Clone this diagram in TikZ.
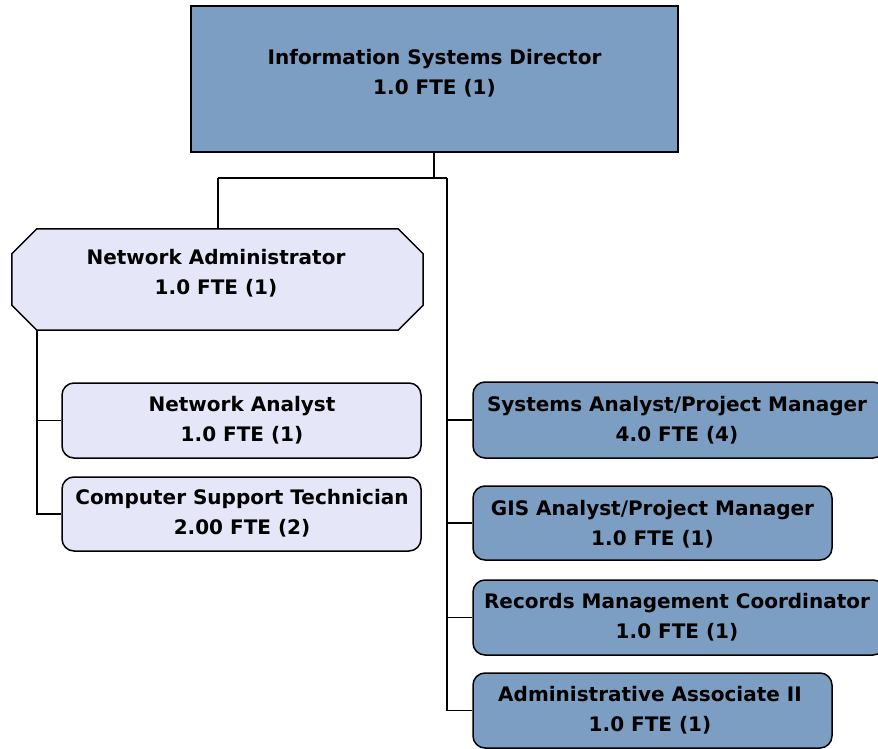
\documentclass[tikz,border=0pt]{standalone}
\usepackage{fontspec}
\setmainfont{DejaVu Sans}
\definecolor{darkfill}{RGB}{124,158,194}
\definecolor{lightfill}{RGB}{230,230,249}
\begin{document}
\begin{tikzpicture}[x=1pt,y=-1pt,
  lbl/.style={font=\fontsize{20}{30}\selectfont\bfseries,align=center,inner sep=0pt},
  dirbox/.style={draw=black,line width=1.5pt,fill=darkfill,rectangle,inner sep=0pt},
  darkbox/.style={draw=black,line width=1.5pt,fill=darkfill,rounded corners=12pt,rectangle,inner sep=0pt},
  lightbox/.style={draw=black,line width=1.5pt,fill=lightfill,rounded corners=12pt,rectangle,inner sep=0pt},
  plainbox/.style={rectangle,inner sep=0pt},
  chamline/.style={draw=black,line width=1.5pt,fill=lightfill},
  conn/.style={draw=black,line width=1.5pt}]
\useasboundingbox (0,0) rectangle (878,749);
% boxes
\node[dirbox,minimum width=487pt,minimum height=146pt] (dir) at (434.5,79) {};
\node[lbl] (dirT) at (434.5,73.5) {Information Systems Director\\1.0 FTE (1)};
\node[plainbox,minimum width=411pt,minimum height=101pt] (na) at (217.5,279.5) {};
\draw[chamline] ([xshift=25pt]na.north west) -- ([xshift=-25pt]na.north east)
  -- ([yshift=-25pt]na.north east) -- ([yshift=25pt]na.south east)
  -- ([xshift=-25pt]na.south east) -- ([xshift=25pt]na.south west)
  -- ([yshift=25pt]na.south west) -- ([yshift=-25pt]na.north west) -- cycle;
\node[lbl] (naT) at (216,273.5) {Network Administrator\\1.0 FTE (1)};
\node[lightbox,minimum width=359pt,minimum height=75pt] (nan) at (241.5,420.5) {};
\node[lbl] (nanT) at (242,420) {Network Analyst\\1.0 FTE (1)};
\node[lightbox,minimum width=359pt,minimum height=74pt] (cst) at (241.5,514) {};
\node[lbl] (cstT) at (242,513) {Computer Support Technician\\2.00 FTE (2)};
\node[darkbox,minimum width=412pt,minimum height=76pt] (sapm) at (679,420) {};
\node[lbl] (sapmT) at (677,420) {Systems Analyst/Project Manager\\4.0 FTE (4)};
\node[darkbox,minimum width=359pt,minimum height=74pt] (gis) at (652.5,523) {};
\node[lbl] (gisT) at (652.5,524) {GIS Analyst/Project Manager\\1.0 FTE (1)};
\node[darkbox,minimum width=412pt,minimum height=75pt] (rmc) at (679,617.5) {};
\node[lbl] (rmcT) at (677,617.5) {Records Management Coordinator\\1.0 FTE (1)};
\node[darkbox,minimum width=359pt,minimum height=75pt] (aa) at (652.5,710.5) {};
\node[lbl] (aaT) at (650,710) {Administrative Associate II\\1.0 FTE (1)};
% connectors
\coordinate (j) at (434,178);
\coordinate (jl) at (218,178);
\coordinate (jr) at (447,178);
\draw[conn] (dir.south -| j) -- (j);
\draw[conn] (jl) -- (jr);
\draw[conn] (jl) -- (jl |- na.north);
\coordinate (nl) at (37,330);
\draw[conn] (nl) -- (nl |- cst.west) -- (cst.west);
\draw[conn] (nl |- nan.west) -- (nan.west);
\draw[conn] (jr) -- (jr |- aa.west) -- (aa.west);
\draw[conn] (jr |- sapm.west) -- (sapm.west);
\draw[conn] (jr |- gis.west) -- (gis.west);
\draw[conn] (jr |- rmc.west) -- (rmc.west);
\end{tikzpicture}
\end{document}
